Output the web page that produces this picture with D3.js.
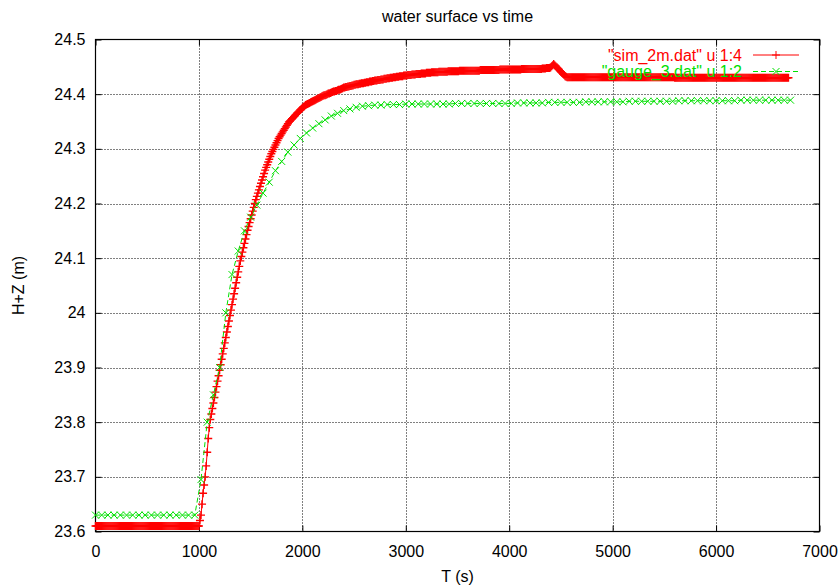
<!DOCTYPE html>
<html><head><meta charset="utf-8">
<script src="https://cdn.jsdelivr.net/npm/d3@7"></script>
<style>
html,body{margin:0;padding:0;background:#fff;}
text{font-family:"Liberation Sans",Arial,Helvetica,sans-serif;}
</style></head>
<body><svg id="chart" width="840" height="588"></svg>
<script>
// ---- data ----
const chartTitle = "water surface vs time";
const xLabel = "T (s)";
const yLabel = "H+Z (m)";
const xTicks = [0,1000,2000,3000,4000,5000,6000,7000];
const xTickLabels = ["0","1000","2000","3000","4000","5000","6000","7000"];
const yTicks = [23.6,23.7,23.8,23.9,24.0,24.1,24.2,24.3,24.4,24.5];
const yTickLabels = ["23.6","23.7","23.8","23.9","24","24.1","24.2","24.3","24.4","24.5"];
const seriesNames = ['"sim_2m.dat" u 1:4', '"gauge_3.dat" u 1:2'];

// sim_2m.dat: sampled every 10 s from t = 0
const simStep = 10;
const simValues = [
23.61,23.61,23.61,23.61,23.61,23.61,23.61,23.61,23.61,23.61,
23.61,23.61,23.61,23.61,23.61,23.61,23.61,23.61,23.61,23.61,
23.61,23.61,23.61,23.61,23.61,23.61,23.61,23.61,23.61,23.61,
23.61,23.61,23.61,23.61,23.61,23.61,23.61,23.61,23.61,23.61,
23.61,23.61,23.61,23.61,23.61,23.61,23.61,23.61,23.61,23.61,
23.61,23.61,23.61,23.61,23.61,23.61,23.61,23.61,23.61,23.61,
23.61,23.61,23.61,23.61,23.61,23.61,23.61,23.61,23.61,23.61,
23.61,23.61,23.61,23.61,23.61,23.61,23.61,23.61,23.61,23.61,
23.61,23.61,23.61,23.61,23.61,23.61,23.61,23.61,23.61,23.61,
23.61,23.61,23.61,23.61,23.61,23.61,23.61,23.61,23.61,23.61,
23.61,23.62,23.63,23.65,23.67,23.685,23.70,23.72,23.745,23.77,
23.79,23.805,23.815,23.825,23.835,23.845,23.855,23.865,23.875,23.885,
23.895,23.905,23.915,23.925,23.935,23.945,23.955,23.965,23.975,23.985,
23.995,24.005,24.015,24.025,24.035,24.045,24.055,24.065,24.075,24.085,
24.095,24.103,24.111,24.119,24.127,24.135,24.143,24.151,24.158,24.165,
24.172,24.179,24.186,24.193,24.2,24.207,24.213,24.219,24.225,24.231,
24.237,24.243,24.249,24.255,24.261,24.266,24.271,24.276,24.281,24.286,
24.291,24.295,24.299,24.303,24.307,24.311,24.315,24.319,24.322,24.325,
24.328,24.331,24.334,24.337,24.340,24.343,24.346,24.349,24.351,24.353,
24.355,24.357,24.359,24.361,24.363,24.365,24.367,24.369,24.371,24.373,
24.375,24.377,24.378,24.380,24.381,24.382,24.383,24.384,24.385,24.386,
24.387,24.388,24.389,24.390,24.391,24.392,24.393,24.394,24.395,24.396,
24.397,24.398,24.398,24.399,24.400,24.401,24.401,24.402,24.403,24.404,
24.405,24.405,24.406,24.406,24.407,24.408,24.408,24.409,24.410,24.411,
24.412,24.412,24.413,24.413,24.414,24.414,24.415,24.415,24.416,24.416,
24.417,24.417,24.418,24.418,24.418,24.419,24.419,24.420,24.420,24.420,
24.421,24.421,24.422,24.422,24.422,24.423,24.423,24.423,24.424,24.424,
24.425,24.425,24.425,24.426,24.426,24.426,24.427,24.427,24.427,24.428,
24.428,24.428,24.429,24.429,24.429,24.430,24.430,24.430,24.431,24.431,
24.431,24.432,24.432,24.432,24.433,24.433,24.433,24.433,24.434,24.434,
24.434,24.434,24.435,24.435,24.435,24.435,24.436,24.436,24.436,24.436,
24.437,24.437,24.437,24.437,24.437,24.438,24.438,24.438,24.438,24.438,
24.439,24.439,24.439,24.439,24.439,24.440,24.440,24.440,24.440,24.440,
24.440,24.440,24.441,24.441,24.441,24.441,24.441,24.441,24.441,24.441,
24.441,24.442,24.442,24.442,24.442,24.442,24.442,24.442,24.442,24.442,
24.442,24.442,24.443,24.443,24.443,24.443,24.443,24.443,24.443,24.443,
24.443,24.443,24.443,24.443,24.443,24.443,24.443,24.443,24.443,24.443,
24.443,24.443,24.444,24.444,24.444,24.444,24.444,24.444,24.444,24.444,
24.444,24.444,24.444,24.444,24.444,24.444,24.444,24.444,24.444,24.444,
24.444,24.445,24.445,24.445,24.445,24.445,24.445,24.445,24.445,24.445,
24.445,24.445,24.445,24.445,24.445,24.445,24.445,24.445,24.445,24.445,
24.445,24.445,24.446,24.446,24.446,24.446,24.446,24.446,24.446,24.446,
24.446,24.446,24.446,24.446,24.446,24.446,24.446,24.446,24.446,24.446,
24.446,24.446,24.447,24.447,24.447,24.447,24.448,24.448,24.448,24.448,
24.449,24.451,24.453,24.455,24.453,24.451,24.449,24.447,24.445,24.443,
24.441,24.439,24.437,24.435,24.433,24.432,24.431,24.431,24.431,24.431,
24.431,24.431,24.431,24.431,24.431,24.431,24.431,24.431,24.431,24.431,
24.431,24.431,24.431,24.431,24.431,24.431,24.431,24.431,24.431,24.431,
24.431,24.431,24.431,24.431,24.431,24.431,24.431,24.431,24.431,24.431,
24.431,24.431,24.431,24.431,24.431,24.431,24.431,24.431,24.431,24.431,
24.431,24.431,24.431,24.431,24.431,24.431,24.431,24.431,24.431,24.431,
24.431,24.431,24.431,24.431,24.431,24.431,24.431,24.431,24.431,24.431,
24.431,24.431,24.431,24.431,24.431,24.431,24.431,24.431,24.431,24.431,
24.431,24.431,24.431,24.431,24.431,24.431,24.431,24.431,24.431,24.431,
24.431,24.431,24.431,24.431,24.431,24.431,24.431,24.431,24.431,24.431,
24.431,24.431,24.431,24.431,24.431,24.431,24.431,24.431,24.431,24.431,
24.430,24.430,24.430,24.430,24.430,24.430,24.430,24.430,24.430,24.430,
24.430,24.430,24.430,24.430,24.430,24.430,24.430,24.430,24.430,24.430,
24.430,24.430,24.430,24.430,24.430,24.430,24.430,24.430,24.430,24.430,
24.430,24.430,24.430,24.430,24.430,24.430,24.430,24.430,24.430,24.430,
24.430,24.430,24.430,24.430,24.430,24.430,24.430,24.430,24.430,24.430,
24.430,24.430,24.430,24.430,24.430,24.430,24.430,24.430,24.430,24.430,
24.430,24.430,24.430,24.430,24.430,24.430,24.430,24.430,24.430,24.430,
24.430,24.430,24.430,24.430,24.430,24.430,24.430,24.430,24.430,24.430,
24.430,24.430,24.430,24.430,24.430,24.430,24.430,24.430,24.430,24.430,
24.430,24.430,24.430,24.430,24.430,24.430,24.430,24.430,24.430,24.430,
24.430,24.430,24.430,24.430,24.430,24.430,24.430,24.430,24.430,24.430,
24.430
];

// gauge_3.dat: sampled every 60 s from t = 0
const gaugeStep = 60;
const gaugeValues = [
23.63,23.63,23.63,23.63,23.63,23.63,23.63,23.63,23.63,23.63,
23.63,23.63,23.63,23.63,23.63,23.63,23.63,
23.695,23.80,23.85,23.90,24.00,24.07,24.113,24.15,24.175,24.197,
24.219,24.239,24.26,24.277,24.294,24.307,24.319,24.329,24.338,24.346,
24.353,24.36,24.365,24.37,24.373,24.376,24.378,24.379,24.38,24.38,
24.381,24.381,24.381,24.382,
24.382,24.382,24.382,24.382,24.382,24.382,24.382,24.383,24.383,24.383,
24.383,24.383,24.383,24.383,24.383,24.383,
24.383,24.384,24.384,24.384,24.384,24.384,24.385,24.385,24.385,24.385,
24.385,24.385,24.386,24.386,24.386,24.386,24.386,
24.386,24.386,24.387,24.387,24.387,24.387,24.387,24.387,24.387,24.387,
24.388,24.388,24.388,24.388,24.388,24.388,24.388,
24.388,24.388,24.388,24.389,24.389,24.389,24.389,24.389,24.389,24.389,
24.389,24.389
];

// ---- drawing ----
const svg = d3.select("#chart");
const L = 95.5, R = 819.5, T = 39.5, B = 531.5;
const x = d3.scaleLinear().domain([0,7000]).range([L,R]);
const y = d3.scaleLinear().domain([23.6,24.5]).range([B,T]);
const FS = "16px";

const simData = simValues.map((v,i)=>({t:i*simStep, v}));
const gaugeData = gaugeValues.map((v,i)=>({t:i*gaugeStep, v}));

// grid
const grid = svg.append("g");
grid.selectAll("line.gx").data(xTicks.slice(1,-1)).join("line")
  .attr("x1",d=>Math.round(x(d))+0.5).attr("x2",d=>Math.round(x(d))+0.5)
  .attr("y1",T).attr("y2",B)
  .attr("stroke","#000").attr("stroke-width",1).attr("stroke-dasharray","1,2");
grid.selectAll("line.gy").data(yTicks.slice(1,-1)).join("line")
  .attr("y1",d=>Math.round(y(d))+0.5).attr("y2",d=>Math.round(y(d))+0.5)
  .attr("x1",L).attr("x2",R)
  .attr("stroke","#000").attr("stroke-width",1).attr("stroke-dasharray","1,2");

// axes (inward ticks, mirrored)
const ax = svg.append("g");
ax.append("g").attr("transform",`translate(0,${B})`)
  .call(d3.axisBottom(x).tickValues(xTicks).tickSize(-6).tickPadding(14)
        .tickFormat((d,i)=>xTickLabels[i]));
ax.append("g").attr("transform",`translate(${L},0)`)
  .call(d3.axisLeft(y).tickValues(yTicks).tickSize(-6).tickPadding(10)
        .tickFormat((d,i)=>yTickLabels[i]));
ax.append("g").attr("transform",`translate(0,${T})`)
  .call(d3.axisTop(x).tickValues(xTicks).tickSize(-6).tickFormat(""));
ax.append("g").attr("transform",`translate(${R},0)`)
  .call(d3.axisRight(y).tickValues(yTicks).tickSize(-6).tickFormat(""));
ax.selectAll(".domain").remove();
ax.selectAll(".tick line").attr("stroke","#000");
ax.selectAll(".tick text").attr("font-size",FS).attr("fill","#000")
  .style("font-family",'"Liberation Sans",Arial,sans-serif');

// border
svg.append("rect").attr("x",L).attr("y",T).attr("width",R-L).attr("height",B-T)
  .attr("fill","none").attr("stroke","#000").attr("stroke-width",1.2);

const plot = svg.append("g");
const line = d3.line().x(d=>x(d.t)).y(d=>y(d.v));
const RED = "#ff0000", GREEN = "#00e000";
const plusPath = "M-4,0H4M0,-4V4";
const crossPath = "M-3.5,-3.5L3.5,3.5M-3.5,3.5L3.5,-3.5";

// red series
plot.append("path").datum(simData).attr("d",line)
  .attr("fill","none").attr("stroke",RED).attr("stroke-width",1);
plot.append("g")
  .selectAll("path").data(simData).join("path")
  .attr("transform",d=>`translate(${x(d.t)},${y(d.v)})`)
  .attr("d",plusPath).attr("stroke",RED).attr("stroke-width",1.4).attr("fill","none");

// green series
plot.append("path").datum(gaugeData).attr("d",line)
  .attr("fill","none").attr("stroke",GREEN).attr("stroke-width",1)
  .attr("stroke-dasharray","5,3");
plot.append("g").selectAll("path").data(gaugeData).join("path")
  .attr("transform",d=>`translate(${x(d.t)},${y(d.v)})`)
  .attr("d",crossPath).attr("stroke",GREEN).attr("stroke-width",1).attr("fill","none");

// legend
const leg = svg.append("g");
const legRows = [
  {name:seriesNames[0], color:RED, dash:null, marker:plusPath, yc:55},
  {name:seriesNames[1], color:GREEN, dash:"5,3", marker:crossPath, yc:71.5}
];
legRows.forEach(r=>{
  leg.append("text").attr("x",742).attr("y",r.yc).attr("dy","0.35em")
    .attr("text-anchor","end").attr("font-size",FS).attr("fill",r.color).text(r.name);
  leg.append("line").attr("x1",753).attr("x2",799).attr("y1",r.yc).attr("y2",r.yc)
    .attr("stroke",r.color).attr("stroke-width",1).attr("stroke-dasharray",r.dash);
  leg.append("path").attr("transform",`translate(776,${r.yc})`).attr("d",r.marker)
    .attr("stroke",r.color).attr("fill","none");
});

// titles
svg.append("text").attr("x",(L+R)/2).attr("y",16).attr("dy","0.35em")
  .attr("text-anchor","middle").attr("font-size",FS).text(chartTitle);
svg.append("text").attr("x",(L+R)/2).attr("y",576).attr("dy","0.35em")
  .attr("text-anchor","middle").attr("font-size",FS).text(xLabel);
svg.append("text").attr("transform",`translate(18,${(T+B)/2}) rotate(-90)`)
  .attr("dy","0.35em").attr("text-anchor","middle").attr("font-size",FS).text(yLabel);
</script></body></html>
